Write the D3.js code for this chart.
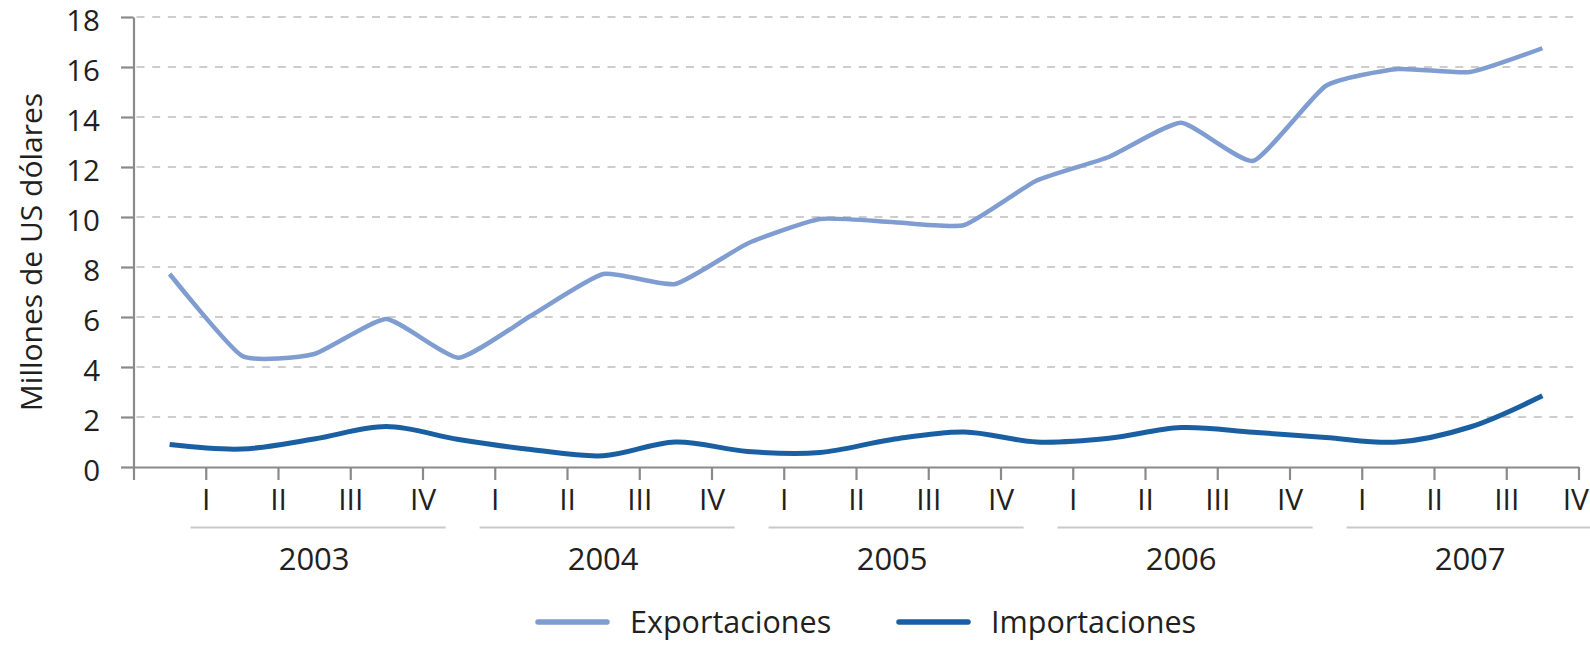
<!DOCTYPE html>
<html>
<head>
<meta charset="utf-8">
<script src="https://cdn.jsdelivr.net/npm/d3@7"></script>
<style>
  body { margin: 0; background: #fff; }
  svg text { font-family: "Open Sans", sans-serif; fill: #231f20; }
</style>
</head>
<body>
<div id="chart"></div>
<script type="text/javascript">
  const width = 1590,
    height = 651;

  // datos trimestrales 2003-2007 (millones de US dólares)
  const years = ["2003", "2004", "2005", "2006", "2007"];
  const quarters = ["I", "II", "III", "IV"];
  const exportaciones = [7.72, 4.45, 4.52, 5.92, 4.37, 6.05, 7.72, 7.32, 8.94, 9.92, 9.8, 9.68, 11.46, 12.4, 13.77, 12.25, 15.24, 15.92, 15.8, 16.75];
  const importaciones = [0.9, 0.72, 1.12, 1.62, 1.1, 0.7, 0.45, 1.0, 0.62, 0.58, 1.1, 1.4, 1.0, 1.15, 1.58, 1.39, 1.18, 1.0, 1.6, 2.85];
  const yTicks = [0, 2, 4, 6, 8, 10, 12, 14, 16, 18];
  const seriesNames = ["Exportaciones", "Importaciones"];
  const seriesColors = ["#7f9dd0", "#1b5fa3"];

  const plotLeft = 133.5, plotRight = 1578.5, plotTop = 17, plotBottom = 467;

  const svg = d3.select("#chart").append("svg")
    .attr("width", width)
    .attr("height", height);

  const x = d3.scaleLinear()
    .domain([0, exportaciones.length])
    .range([plotLeft, plotRight]);

  const y = d3.scaleLinear()
    .domain([0, 18])
    .range([plotBottom, plotTop]);

  // grid
  svg.append("g")
    .selectAll("line")
    .data(yTicks.filter(d => d > 0))
    .enter().append("line")
      .attr("x1", plotLeft + 3)
      .attr("x2", plotRight)
      .attr("y1", d => y(d))
      .attr("y2", d => y(d))
      .style("stroke", "#bdbdbd")
      .style("stroke-width", 1.6)
      .style("stroke-dasharray", "8,7.7");

  // eje y
  const yAxis = svg.append("g")
    .attr("transform", "translate(" + plotLeft + ",0)")
    .call(d3.axisLeft(y).tickValues(yTicks).tickSize(12.5).tickPadding(21).tickSizeOuter(0));
  yAxis.select(".domain").style("stroke", "#8a8a8a").style("stroke-width", 2.2);
  yAxis.selectAll(".tick line").style("stroke", "#8a8a8a").style("stroke-width", 2.2);
  yAxis.selectAll("text")
    .style("font-size", "29.5px")
    .attr("dy", "0.47em");

  // eje x (trimestres)
  const nQ = exportaciones.length;
  const xAxis = svg.append("g")
    .attr("transform", "translate(0," + plotBottom + ")")
    .call(d3.axisBottom(x)
      .tickValues(d3.range(0, nQ + 1))
      .tickFormat(k => k === 0 ? "" : quarters[(k - 1) % 4])
      .tickSize(13)
      .tickPadding(8.7)
      .tickSizeOuter(0));
  xAxis.select(".domain").style("stroke", "#8a8a8a").style("stroke-width", 2.2);
  xAxis.selectAll(".tick line").style("stroke", "#8a8a8a").style("stroke-width", 2.2);
  xAxis.selectAll("text").style("font-size", "30px");
  // último "IV" pegado al borde
  xAxis.selectAll(".tick").filter(k => k === nQ).select("text")
    .attr("text-anchor", "end")
    .attr("x", 10);

  // años
  const yearG = svg.append("g");
  yearG.selectAll("line")
    .data(years)
    .enter().append("line")
      .attr("x1", (d, i) => x(i * 4 + 0.79))
      .attr("x2", (d, i) => x(i * 4 + 4.32))
      .attr("y1", 527.5)
      .attr("y2", 527.5)
      .style("stroke", "#c9c9c9")
      .style("stroke-width", 2.2);
  yearG.selectAll("text")
    .data(years)
    .enter().append("text")
      .attr("x", (d, i) => x(i * 4 + 2.5))
      .attr("y", 570)
      .attr("text-anchor", "middle")
      .style("font-size", "31px")
      .text(d => d);

  // título eje y
  svg.append("text")
    .attr("transform", "translate(42,252) rotate(-90)")
    .attr("text-anchor", "middle")
    .style("font-size", "30px")
    .text("Millones de US dólares");

  // líneas
  const curves = [d3.curveCardinal.tension(0.5), d3.curveCatmullRom.alpha(0.5)];

  [exportaciones, importaciones].forEach(function(values, s) {
    const line = d3.line()
      .x((d, i) => x(i + 0.5))
      .y(d => y(d))
      .curve(curves[s]);
    svg.append("path")
      .datum(values)
      .attr("d", line)
      .style("fill", "none")
      .style("stroke", seriesColors[s])
      .style("stroke-width", s === 0 ? 4.5 : 5)
      .style("stroke-linejoin", "round")
      .style("stroke-linecap", "butt");
  });

  // leyenda
  const legendX = [536, 897];
  const legend = svg.append("g");
  seriesNames.forEach(function(name, s) {
    legend.append("line")
      .attr("x1", legendX[s] + 2)
      .attr("x2", legendX[s] + 71)
      .attr("y1", 622)
      .attr("y2", 622)
      .style("stroke", seriesColors[s])
      .style("stroke-width", 5.5)
      .style("stroke-linecap", "round");
    legend.append("text")
      .attr("x", legendX[s] + 94)
      .attr("y", 633)
      .style("font-size", "30.5px")
      .text(name);
  });
</script>
</body>
</html>
